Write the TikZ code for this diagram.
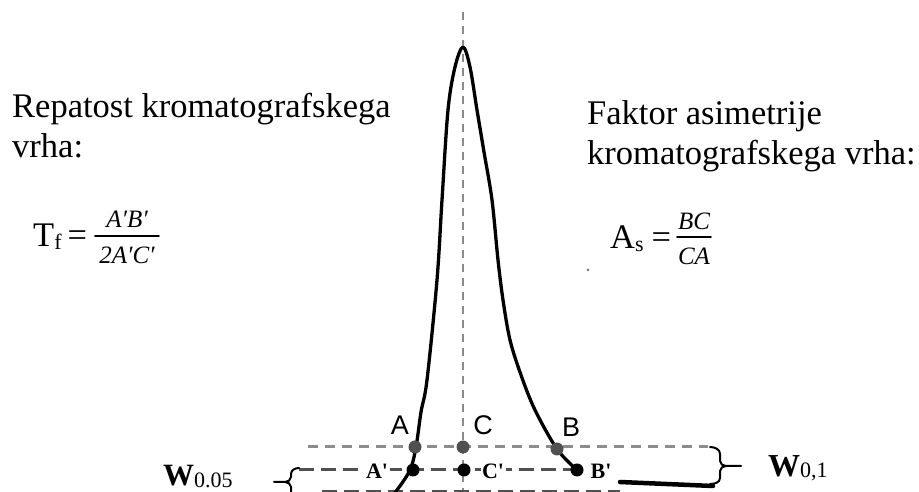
\documentclass[tikz,border=0pt]{standalone}
\usepackage{fontspec}
\setmainfont{Liberation Serif}
\setsansfont{Liberation Sans}
\usetikzlibrary{positioning}

\newcommand{\besedilo}{\fontsize{34.5}{40}\selectfont}
\newcommand{\ulomek}{\fontsize{25}{25}\selectfont\itshape}
\newcommand{\indeks}{\fontsize{22}{22}\selectfont}

\definecolor{sivaos}{HTML}{8A8A8A}
\definecolor{sivanivo}{HTML}{8C8C8C}
\definecolor{sivapika}{HTML}{505050}

\begin{document}
\begin{tikzpicture}[x=1pt, y=1pt, line cap=round, line join=round,
	pika/.style={circle, fill=black, inner sep=0pt, minimum size=13pt},
	sivapikastil/.style={pika, fill=sivapika},
	oznaka/.style={font=\sffamily\fontsize{27}{27}\selectfont, inner sep=0pt},
	crtica/.style={font=\bfseries\fontsize{22}{22}\selectfont, fill=white, inner sep=1.5pt},
	nivo/.style={draw=sivanivo, line width=3pt, dash pattern=on 10pt off 7pt, line cap=butt},
	nivocrtica/.style={draw=sivapika, line width=3pt, dash pattern=on 15pt off 7pt, line cap=butt},
	besedilostil/.style={anchor=base west, font=\besedilo, inner sep=0pt},
	ulomekstil/.style={anchor=base, font=\ulomek, inner sep=0pt},
	oklepaj/.style={line width=2pt}]
	\useasboundingbox (0,0) rectangle (919,492);

	% Os simetrije vrha
	\coordinate (ostop) at (463,480);
	\coordinate (osbot) at (463,-4);
	\draw[draw=sivaos, line width=2.5pt, dash pattern=on 8pt off 6pt, line cap=butt] (ostop) -- (osbot);

	% Nivoji: zgoraj A-C-B, spodaj A'-C'-B'
	\coordinate (zgorajL) at (308,45);
	\coordinate (zgorajD) at (708,45);
	\coordinate (spodajL) at (299,22);
	\coordinate (spodajD) at (577,22);
	\coordinate (dnoL) at (322,0);
	\coordinate (dnoD) at (620,0);
	\draw[nivo] (zgorajL) -- (zgorajD);
	\draw[nivocrtica] (spodajL) -- (spodajD);
	\draw[nivocrtica] (dnoL) -- (dnoD);

	% Kromatografski vrh
	\draw[line width=3.3pt] plot[smooth, tension=0.55] coordinates {
		(388,-8) (397,2) (410,22) (416,45) (421,80) (427,112) (437,212) (442,292)
		(448,382) (455,425) (463,445) (470,425) (477,382) (484,340) (492,292)
		(498,232) (503,192) (510,152) (521,117) (535,82) (557,43) (577,22)};
	\coordinate (repL) at (620,10);
	\coordinate (repD) at (713,6);
	\draw[line width=4.5pt] (repL) -- (repD);

	% Tocke
	\node[sivapikastil] (A) at (415,45) {};
	\node[sivapikastil] (C) at (463,45) {};
	\node[sivapikastil] (B) at (557,43) {};
	\node[pika] (Ap) at (413,22) {};
	\node[pika] (Cp) at (464,22) {};
	\node[pika] (Bp) at (577,22) {};

	\node[oznaka] (labA) at (400,67) {A};
	\node[oznaka] (labC) at (483,67) {C};
	\node[oznaka] (labB) at (571,65) {B};
	\node[crtica] (labAp) at (377,21) {A\textquotesingle};
	\node[crtica] (labCp) at (493,21) {C\textquotesingle};
	\node[crtica] (labBp) at (601,21) {B\textquotesingle};

	% Oklepaja s sirinama
	\coordinate (w01kon) at (741,26);
	\draw[oklepaj] (710,45) to[out=0,in=90] (720,38) -- (720,31) to[out=-90,in=180] (726,26) -- (w01kon);
	\draw[oklepaj] (726,26) to[out=180,in=90] (720,21) -- (720,14) to[out=-90,in=0] (710,8);
	\coordinate (w005kon) at (274,10);
	\draw[oklepaj] (299,24) to[out=180,in=90] (291,18) -- (291,15) to[out=-90,in=0] (285,10) -- (w005kon);
	\draw[oklepaj] (285,10) to[out=0,in=90] (291,5) -- (291,-1) to[out=-90,in=180] (299,-6);

	\node[anchor=base west, inner sep=0pt, font=\fontsize{32}{32}\selectfont\bfseries] (w01) at (768,15)
		{W\raisebox{-1pt}{\mdseries\indeks 0,1}};
	\node[anchor=base west, inner sep=0pt, font=\fontsize{31}{31}\selectfont\bfseries] (w005) at (163,6)
		{W\raisebox{-2pt}{\mdseries\indeks 0.05}};

	% Besedilo levo
	\node[besedilostil] (repatost) at (12,374) {Repatost kromatografskega};
	\node[besedilostil] (repatostvrh) at (12,334) {vrha:};
	\node[besedilostil] (tf) at (33,245) {T\raisebox{-3pt}{\indeks f}\kern6pt=};
	\node[ulomekstil] (tfst) at (127,264) {A′B′};
	\node[ulomekstil] (tfim) at (127,228) {2A′C′};
	\coordinate (tfl) at (95,256);
	\coordinate (tfd) at (159,256);
	\draw[line width=1.6pt] (tfl) -- (tfd);

	% Besedilo desno
	\node[besedilostil] (faktor) at (587,367) {Faktor asimetrije};
	\node[besedilostil] (faktorvrh) at (587,327) {kromatografskega vrha:};
	\node[besedilostil] (as) at (610,243) {A\raisebox{-3pt}{\indeks s}\kern8pt=};
	\node[ulomekstil] (asst) at (694,262) {BC};
	\node[ulomekstil] (asim) at (694,227) {CA};
	\coordinate (asl) at (677,255);
	\coordinate (asd) at (711,255);
	\draw[line width=1.6pt] (asl) -- (asd);
	\node[circle, fill=gray, inner sep=0pt, minimum size=3pt] (pik) at (588,222) {};
\end{tikzpicture}
\end{document}
